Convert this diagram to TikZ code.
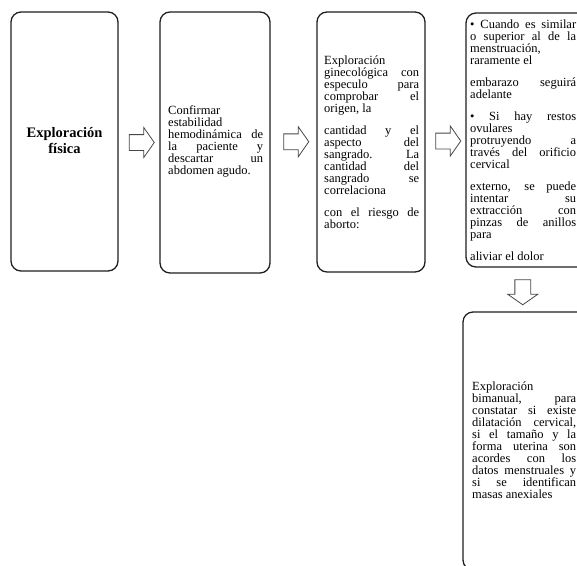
\documentclass[tikz,border=0pt]{standalone}
\usepackage{fontspec}
\setmainfont{Liberation Serif}
\usetikzlibrary{shapes.arrows,calc}

% one line stretched to the full width / flush left / centred
\newcommand\spreadln[1]{\hbox to\hsize{#1}}
\newcommand\flushln[1]{\hbox to\hsize{#1\hfil}}
\newcommand\centreln[1]{\hbox to\hsize{\hfil#1\hfil}}
\newcommand\pgap{\vskip 10pt}
\newcommand\bodytext{\fontsize{12.5}{12}\selectfont}

\tikzset{
  card/.style={draw=black!88, line width=1.3pt, rounded corners=10pt, inner sep=0pt},
  cardtext/.style={anchor=base west, inner sep=0pt, text=black},
  blockarrow/.style={single arrow, draw=black!72, line width=0.8pt, fill=white,
    minimum height=25pt, inner xsep=0pt, inner ysep=7.5pt,
    single arrow head extend=7pt, single arrow tip angle=110},
}

\begin{document}
\begin{tikzpicture}[x=1pt,y=-1pt]
\useasboundingbox (0,0) rectangle (577,565);
\clip (0,0) rectangle (577,565);

% the five rounded cards
\node[card, minimum width=107pt, minimum height=259pt] (b1) at (64.5,141.5) {};
\node[card, minimum width=110pt, minimum height=261pt] (b2) at (215,142.5) {};
\node[card, minimum width=108pt, minimum height=260pt] (b3) at (371,142) {};
\node[card, minimum width=124pt, minimum height=254pt] (b4) at (528,140) {};
\node[card, minimum width=127pt, minimum height=258pt] (b5) at (526.5,441) {};

% hollow block arrows between the cards
\node[blockarrow] (a1) at ($(b1.east)!0.5!(b2.west)+(0,0.5)$) {};
\node[blockarrow] (a2) at ($(b2.east)!0.5!(b3.west)+(0,-0.5)$) {};
\node[blockarrow] (a3) at ($(b3.east)!0.5!(b4.west)+(0,0)$) {};
\node[blockarrow, rotate=-90] (a4) at ($(b4.south)!0.5!(b5.north)+(-4.5,0)$) {};

% card texts
\node[cardtext, anchor=base] (t1) at (64.5,137) {\vtop{\hsize=100pt
  \fontsize{14.5}{16}\selectfont\bfseries
  \centreln{Exploración}
  \centreln{física}}};

\node[cardtext] (t2) at (168,114) {\vtop{\hsize=95pt \bodytext
  \flushln{Confirmar}
  \flushln{estabilidad}
  \spreadln{hemodinámica de}
  \spreadln{la paciente y}
  \spreadln{descartar un}
  \flushln{abdomen agudo.}}};

\node[cardtext] (t3) at (324,64) {\vtop{\hsize=95pt \bodytext
  \flushln{Exploración}
  \spreadln{ginecológica con}
  \spreadln{especulo para}
  \spreadln{comprobar el}
  \flushln{origen, la}
  \pgap
  \spreadln{cantidad y el}
  \spreadln{aspecto del}
  \spreadln{sangrado. La}
  \spreadln{cantidad del}
  \spreadln{sangrado se}
  \flushln{correlaciona}
  \pgap
  \spreadln{con el riesgo de}
  \flushln{aborto:}}};

\node[cardtext] (t4) at (470,28) {\vtop{\hsize=106pt \bodytext
  \spreadln{• Cuando es similar}
  \spreadln{o superior al de la}
  \flushln{menstruación,}
  \flushln{raramente el}
  \pgap
  \spreadln{embarazo seguirá}
  \flushln{adelante}
  \pgap
  \spreadln{•  Si hay restos}
  \flushln{ovulares}
  \spreadln{protruyendo a}
  \spreadln{través del orificio}
  \flushln{cervical}
  \pgap
  \spreadln{externo, se puede}
  \spreadln{intentar su}
  \spreadln{extracción con}
  \spreadln{pinzas de anillos}
  \flushln{para}
  \pgap
  \flushln{aliviar el dolor}}};

\node[cardtext] (t5) at (472,390) {\vtop{\hsize=104pt \bodytext
  \flushln{Exploración}
  \spreadln{bimanual, para}
  \spreadln{constatar si existe}
  \spreadln{dilatación cervical,}
  \spreadln{si el tamaño y la}
  \spreadln{forma uterina son}
  \spreadln{acordes con los}
  \spreadln{datos menstruales y}
  \spreadln{si se identifican}
  \flushln{masas anexiales}}};
\end{tikzpicture}
\end{document}
